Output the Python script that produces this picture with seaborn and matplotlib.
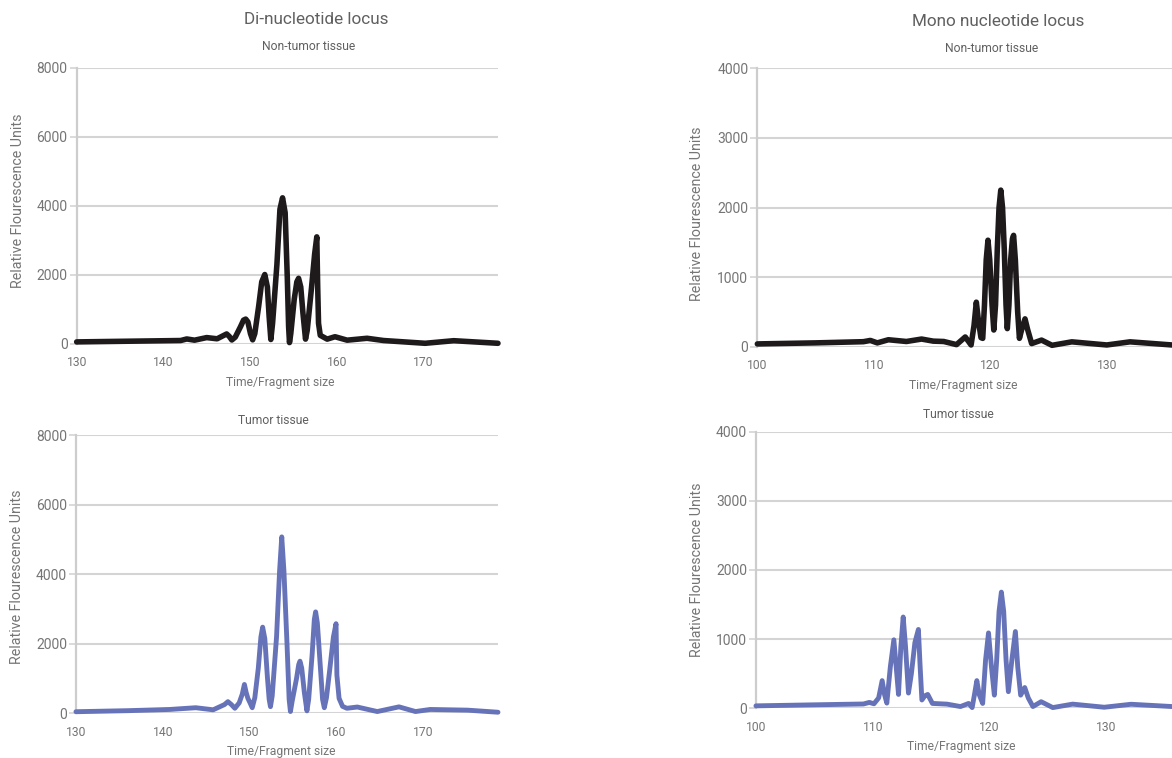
import matplotlib
matplotlib.use("Agg")
import matplotlib.pyplot as plt
import seaborn as sns
import pandas as pd

# ---------------- data ----------------
di_xticks = [130, 140, 150, 160, 170]
di_yticks = [0, 2000, 4000, 6000, 8000]
mono_xticks = [100, 110, 120, 130]
mono_yticks = [0, 1000, 2000, 3000, 4000]

di_normal_size = [130.0, 136.0, 142.0, 142.7, 143.6, 145.0, 146.2, 147.3, 147.6, 147.9,
                  148.3, 148.9, 149.25, 149.5, 149.75, 150.05, 150.3, 150.55, 151.0, 151.35,
                  151.7, 152.0, 152.2, 152.4, 152.6, 153.1, 153.45, 153.75, 154.05, 154.3,
                  154.45, 154.55, 154.7, 155.1, 155.4, 155.6, 155.85, 156.1, 156.4, 156.6,
                  157.1, 157.45, 157.7, 157.8, 157.9, 158.1, 158.9, 159.8, 161.2, 163.5,
                  165.4, 170.2, 173.5, 178.6]
di_normal_rfu = [60, 80, 100, 145, 110, 185, 150, 290, 220, 115,
                 200, 500, 690, 720, 640, 300, 120, 300, 1100, 1800,
                 2010, 1650, 800, 130, 600, 2300, 3900, 4230, 3800, 1900,
                 500, 40, 300, 1300, 1800, 1900, 1650, 900, 140, 400,
                 1650, 2600, 3100, 1700, 600, 250, 140, 210, 110, 165,
                 100, 20, 95, 20]

di_tumor_size = [130.0, 136.0, 140.8, 143.8, 145.8, 147.1, 147.5, 147.9, 148.3, 148.8,
                 149.15, 149.4, 149.6, 149.8, 150.05, 150.3, 150.6, 151.0, 151.3, 151.5,
                 151.75, 152.05, 152.25, 152.4, 152.6, 153.1, 153.45, 153.7, 153.95, 154.3,
                 154.55, 154.7, 154.9, 155.4, 155.65, 155.8, 156.0, 156.3, 156.6, 156.8,
                 157.2, 157.45, 157.6, 157.8, 158.1, 158.4, 158.6, 158.85, 159.2, 159.65,
                 159.95, 160.05, 160.3, 160.7, 161.2, 162.4, 164.7, 167.2, 169.1, 170.8,
                 175.1, 178.6]
di_tumor_rfu = [45, 75, 110, 160, 100, 250, 335, 250, 144, 300,
                550, 830, 600, 430, 300, 160, 450, 1300, 2200, 2480,
                2150, 1030, 400, 190, 500, 2200, 4100, 5080, 4100, 2030,
                400, 50, 350, 1000, 1400, 1500, 1300, 600, 70, 400,
                1700, 2700, 2920, 2600, 1500, 400, 160, 450, 1200, 2200,
                2580, 1100, 430, 200, 144, 180, 50, 185, 50, 110,
                90, 30]

mono_normal_size = [100.0, 105.0, 109.1, 109.7, 110.3, 111.25, 112.8, 114.1, 115.1, 116.0,
                    117.1, 117.85, 118.35, 118.6, 118.8, 119.0, 119.2, 119.35, 119.5, 119.65,
                    119.8, 119.95, 120.15, 120.3, 120.45, 120.6, 120.75, 120.9, 121.05, 121.2,
                    121.35, 121.46, 121.6, 121.75, 121.9, 122.0, 122.15, 122.35, 122.5, 122.7,
                    122.98, 123.2, 123.55, 124.4, 125.3, 127.0, 130.0, 132.0, 135.6]
mono_normal_rfu = [40, 55, 72, 90, 55, 100, 75, 110, 80, 75,
                   30, 140, 25, 300, 640, 350, 130, 120, 600, 1250,
                   1530, 1250, 600, 240, 600, 1400, 2000, 2250, 2000, 1400,
                   600, 260, 600, 1250, 1550, 1600, 1250, 500, 120, 250,
                   400, 250, 45, 95, 20, 70, 25, 70, 25]

mono_tumor_size = [100.0, 105.0, 109.2, 109.7, 110.1, 110.5, 110.8, 111.0, 111.2, 111.5,
                   111.8, 112.0, 112.2, 112.4, 112.6, 112.8, 113.05, 113.3, 113.6, 113.9,
                   114.05, 114.2, 114.45, 114.7, 115.1, 116.35, 117.5, 118.2, 118.5, 118.7,
                   118.9, 119.1, 119.4, 119.65, 119.9, 120.15, 120.4, 120.6, 120.8, 121.0,
                   121.2, 121.4, 121.6, 121.9, 122.2, 122.4, 122.65, 123.0, 123.3, 123.7,
                   124.4, 125.4, 127.1, 129.8, 132.1, 135.6]
mono_tumor_rfu = [35, 50, 62, 85, 65, 150, 400, 200, 75, 600,
                  990, 600, 200, 890, 1320, 890, 220, 500, 950, 1140,
                  600, 120, 180, 200, 70, 60, 25, 70, 10, 200,
                  400, 200, 70, 700, 1090, 600, 190, 700, 1400, 1680,
                  1400, 700, 240, 700, 1110, 600, 190, 300, 150, 25,
                  95, 10, 60, 15, 58, 25]

# ---------------- style ----------------
sns.set_theme(style="white")
plt.rcParams['font.family'] = ['Roboto', 'DejaVu Sans']

TITLE_C = '#606060'
TEXT_C = '#757575'
GRID_C = '#d4d4d4'
BLACK = '#1e1a1b'
TUMOR = '#6673b8'

fig = plt.figure(figsize=(11.72, 7.58), dpi=100)

panels = [
    dict(rect=[0.0654, 0.5462, 0.3595, 0.3647], x=di_normal_size, y=di_normal_rfu,
         color=BLACK, lw=4.0, xlim=(130, 178.6), ymax=8000,
         xt=di_xticks, yt=di_yticks, xl=(0.4826, -0.141), yl=(-0.139, 0.517)),
    dict(rect=[0.6462, 0.5426, 0.3538, 0.3673], x=mono_normal_size, y=mono_normal_rfu,
         color=BLACK, lw=4.0, xlim=(100, 135.6), ymax=4000,
         xt=mono_xticks, yt=mono_yticks, xl=(0.496, -0.1376), yl=(-0.145, 0.477)),
    dict(rect=[0.0648, 0.0590, 0.3601, 0.3665], x=di_tumor_size, y=di_tumor_rfu,
         color=TUMOR, lw=3.5, xlim=(130, 178.6), ymax=8000,
         xt=di_xticks, yt=di_yticks, xl=(0.4858, -0.139), yl=(-0.139, 0.49)),
    dict(rect=[0.6450, 0.0656, 0.3550, 0.3649], x=mono_tumor_size, y=mono_tumor_rfu,
         color=TUMOR, lw=3.5, xlim=(100, 135.6), ymax=4000,
         xt=mono_xticks, yt=mono_yticks, xl=(0.4928, -0.14), yl=(-0.142, 0.5)),
]

for p in panels:
    ax = fig.add_axes(p['rect'])
    df = pd.DataFrame({'size': p['x'], 'rfu': p['y']})
    sns.lineplot(data=df, x='size', y='rfu', ax=ax, color=p['color'], linewidth=p['lw'],
                 sort=False, estimator=None, solid_joinstyle='round',
                 solid_capstyle='round', clip_on=False, zorder=3)
    ax.set_xlim(*p['xlim'])
    ax.set_ylim(0, p['ymax'])
    ax.set_xticks(p['xt'])
    ax.set_yticks(p['yt'])
    ax.set_xticklabels([str(v) for v in p['xt']])
    ax.set_yticklabels([str(v) for v in p['yt']])
    ax.grid(axis='y', color=GRID_C, linewidth=1.5)
    ax.grid(axis='x', visible=False)
    ax.set_axisbelow(True)
    for s in ['top', 'right', 'bottom']:
        ax.spines[s].set_visible(False)
    ax.spines['left'].set_color('#cdcdcd')
    ax.spines['left'].set_linewidth(1.6)
    ax.tick_params(axis='y', length=5, width=1.2, color=GRID_C, pad=1.5,
                   labelsize=10, labelcolor=TEXT_C, left=True)
    ax.tick_params(axis='x', length=0, pad=9, labelsize=8.7, labelcolor=TEXT_C)
    ax.set_xlabel('Time/Fragment size', fontsize=8.7, color=TEXT_C, va='center')
    ax.xaxis.set_label_coords(*p['xl'])
    ax.set_ylabel('Relative Flourescence Units', fontsize=10.3, color=TEXT_C, va='center')
    ax.yaxis.set_label_coords(*p['yl'])

# titles and subtitles
fig.text(316 / 1172, 1 - 20 / 758, 'Di-nucleotide locus', ha='center', va='center',
         fontsize=12.3, color=TITLE_C)
fig.text(998 / 1172, 1 - 22 / 758, 'Mono nucleotide locus', ha='center', va='center',
         fontsize=12.3, color=TITLE_C)
fig.text(309 / 1172, 1 - 47 / 758, 'Non-tumor tissue', ha='center', va='center',
         fontsize=8.7, color=TITLE_C)
fig.text(992 / 1172, 1 - 49 / 758, 'Non-tumor tissue', ha='center', va='center',
         fontsize=8.7, color=TITLE_C)
fig.text(273 / 1172, 1 - 420 / 758, 'Tumor tissue', ha='center', va='center',
         fontsize=8.7, color=TITLE_C)
fig.text(958 / 1172, 1 - 414 / 758, 'Tumor tissue', ha='center', va='center',
         fontsize=8.7, color=TITLE_C)

fig.savefig('out.png', dpi=100, facecolor='white')
